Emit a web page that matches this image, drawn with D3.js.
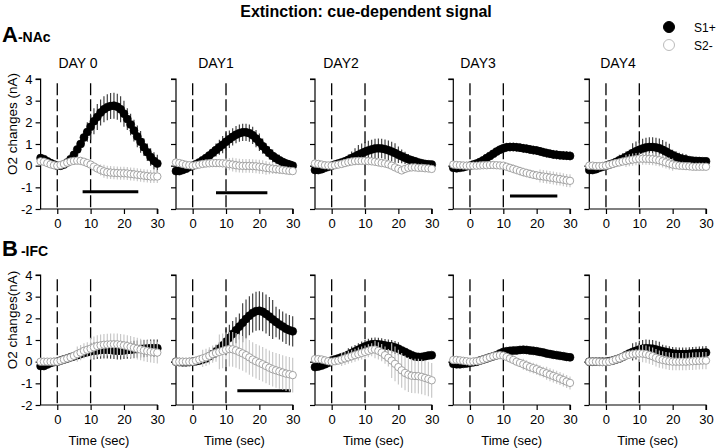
<!DOCTYPE html>
<html><head><meta charset="utf-8">
<script src="https://cdn.jsdelivr.net/npm/d3@7"></script>
<style>
body{margin:0;background:#fff;}
svg{font-family:"Liberation Sans",Arial,sans-serif;}
</style></head>
<body><svg id="c" width="720" height="448"></svg>
<script>
const days = ["DAY 0","DAY1","DAY2","DAY3","DAY4"];
const times = [-5,-4,-3,-2,-1,0,1,2,3,4,5,6,7,8,9,10,11,12,13,14,15,16,17,18,19,20,21,22,23,24,25,26,27,28,29,30];
const xTicks = [0,10,20,30];
const yTicks = [4,3,2,1,0,-1,-2];
const cueLines = [0,10];
const seriesNames = ["S1+","S2-"];

// A - NAc
const nacS1 = [
 [0.35,0.3,0.2,0.12,0.05,0,0,0.05,0.15,0.3,0.5,0.75,1.0,1.3,1.55,1.8,2.05,2.25,2.45,2.6,2.7,2.75,2.77,2.72,2.6,2.4,2.15,1.9,1.62,1.35,1.1,0.85,0.62,0.4,0.22,0.1],
 [-0.25,-0.25,-0.2,-0.14,-0.06,0,0.07,0.15,0.25,0.35,0.47,0.6,0.72,0.85,0.97,1.1,1.22,1.33,1.43,1.5,1.54,1.54,1.5,1.4,1.25,1.08,0.9,0.73,0.58,0.45,0.34,0.25,0.17,0.1,0.05,0],
 [-0.2,-0.2,-0.16,-0.1,-0.05,0,0.05,0.1,0.15,0.2,0.27,0.35,0.42,0.5,0.57,0.64,0.7,0.75,0.79,0.8,0.79,0.76,0.71,0.65,0.58,0.5,0.43,0.36,0.3,0.25,0.2,0.15,0.11,0.08,0.06,0.05],
 [-0.1,-0.12,-0.1,-0.07,-0.03,0,0.05,0.1,0.17,0.25,0.35,0.45,0.55,0.65,0.74,0.8,0.85,0.86,0.86,0.85,0.83,0.8,0.78,0.75,0.72,0.7,0.66,0.62,0.58,0.55,0.52,0.5,0.48,0.47,0.46,0.45],
 [-0.2,-0.2,-0.16,-0.1,-0.05,0,0.05,0.1,0.17,0.25,0.32,0.4,0.49,0.58,0.66,0.73,0.79,0.84,0.86,0.86,0.84,0.8,0.73,0.65,0.56,0.48,0.41,0.35,0.31,0.28,0.25,0.23,0.22,0.21,0.2,0.2]
];
const nacS1Err = [
 [0.1,0.1,0.1,0.1,0.1,0.1,0.1,0.1,0.1,0.12,0.15,0.18,0.22,0.3,0.45,0.6,0.6,0.6,0.6,0.6,0.6,0.6,0.6,0.6,0.6,0.6,0.5,0.5,0.5,0.5,0.5,0.4,0.4,0.4,0.4,0.4],
 [0.08,0.08,0.08,0.08,0.08,0.08,0.08,0.08,0.08,0.15,0.2,0.25,0.3,0.35,0.4,0.4,0.4,0.4,0.4,0.4,0.4,0.4,0.4,0.4,0.4,0.4,0.35,0.3,0.3,0.3,0.25,0.25,0.2,0.2,0.2,0.2],
 [0.08,0.08,0.08,0.08,0.08,0.08,0.08,0.08,0.08,0.2,0.25,0.3,0.38,0.45,0.45,0.45,0.45,0.45,0.45,0.45,0.45,0.45,0.45,0.45,0.45,0.38,0.32,0.28,0.24,0.2,0.18,0.15,0.12,0.1,0.1,0.1],
 [0.05,0.05,0.05,0.05,0.05,0.05,0.05,0.05,0.05,0.05,0.05,0.1,0.15,0.2,0.2,0.2,0.2,0.2,0.2,0.2,0.2,0.2,0.2,0.2,0.2,0.2,0.2,0.2,0.2,0.2,0.2,0.2,0.2,0.2,0.2,0.2],
 [0.05,0.05,0.05,0.05,0.05,0.05,0.05,0.05,0.05,0.25,0.25,0.25,0.25,0.45,0.45,0.45,0.45,0.45,0.45,0.45,0.45,0.45,0.45,0.45,0.45,0.25,0.25,0.25,0.25,0.25,0.12,0.12,0.12,0.12,0.12,0.12]
];
const nacS2 = [
 [0.2,0.18,0.12,0.06,0.02,0,0.03,0.08,0.14,0.19,0.22,0.23,0.22,0.18,0.12,0.05,-0.04,-0.13,-0.2,-0.26,-0.3,-0.32,-0.33,-0.34,-0.35,-0.35,-0.36,-0.38,-0.4,-0.42,-0.44,-0.46,-0.48,-0.5,-0.5,-0.5],
 [0.15,0.12,0.08,0.04,0.02,0,0.02,0.05,0.08,0.1,0.11,0.12,0.12,0.12,0.11,0.1,0.07,0.05,0.02,0,-0.01,-0.01,-0.01,-0.02,-0.03,-0.05,-0.07,-0.1,-0.12,-0.14,-0.16,-0.18,-0.2,-0.22,-0.24,-0.25],
 [0.1,0.08,0.05,0.02,0.01,0,0.02,0.05,0.08,0.12,0.16,0.19,0.21,0.22,0.22,0.22,0.21,0.2,0.18,0.15,0.12,0.1,0.06,0,-0.08,-0.15,-0.22,-0.15,-0.1,-0.08,-0.08,-0.1,-0.1,-0.12,-0.13,-0.15],
 [0.05,0.03,0.02,0.01,0,0,0,0,0.01,0.02,0.02,0.03,0.03,0.02,0.01,0,-0.05,-0.1,-0.15,-0.2,-0.25,-0.3,-0.34,-0.38,-0.42,-0.45,-0.48,-0.5,-0.52,-0.55,-0.57,-0.6,-0.62,-0.65,-0.68,-0.7],
 [0,0,-0.02,-0.02,-0.01,0,0.04,0.08,0.12,0.15,0.19,0.22,0.25,0.28,0.3,0.32,0.32,0.32,0.31,0.3,0.28,0.25,0.2,0.15,0.1,0.05,0.02,0,-0.01,-0.02,-0.03,-0.05,-0.05,-0.05,-0.05,-0.05]
];
const nacS2Err = [
 [0.08,0.08,0.08,0.08,0.08,0.08,0.08,0.08,0.08,0.08,0.08,0.08,0.08,0.08,0.08,0.12,0.15,0.2,0.25,0.3,0.3,0.3,0.3,0.3,0.3,0.3,0.3,0.3,0.3,0.3,0.3,0.3,0.3,0.3,0.3,0.3],
 [0.06,0.06,0.06,0.06,0.06,0.06,0.06,0.06,0.06,0.06,0.06,0.06,0.06,0.12,0.18,0.24,0.28,0.32,0.32,0.32,0.32,0.32,0.32,0.32,0.32,0.32,0.32,0.32,0.28,0.25,0.22,0.2,0.18,0.16,0.15,0.15],
 [0.08,0.08,0.08,0.08,0.08,0.08,0.08,0.08,0.08,0.08,0.08,0.08,0.08,0.12,0.12,0.12,0.12,0.12,0.12,0.12,0.12,0.12,0.12,0.12,0.12,0.12,0.08,0.08,0.08,0.08,0.08,0.08,0.08,0.08,0.08,0.08],
 [0.05,0.05,0.05,0.05,0.05,0.05,0.05,0.05,0.05,0.05,0.05,0.05,0.1,0.1,0.1,0.1,0.1,0.1,0.2,0.2,0.2,0.2,0.2,0.2,0.2,0.2,0.3,0.3,0.3,0.3,0.3,0.3,0.3,0.3,0.3,0.3],
 [0.05,0.05,0.05,0.05,0.05,0.05,0.05,0.05,0.05,0.05,0.05,0.28,0.28,0.28,0.28,0.28,0.28,0.28,0.28,0.28,0.28,0.28,0.28,0.28,0.28,0.28,0.15,0.15,0.15,0.15,0.15,0.15,0.15,0.15,0.15,0.15]
];
// B - IFC
const ifcS1 = [
 [-0.2,-0.2,-0.13,-0.06,-0.02,0,0.05,0.1,0.15,0.2,0.25,0.3,0.35,0.4,0.44,0.48,0.5,0.52,0.54,0.55,0.55,0.54,0.52,0.5,0.5,0.52,0.54,0.55,0.57,0.58,0.59,0.6,0.61,0.62,0.62,0.62],
 [0,-0.02,-0.03,-0.03,-0.02,0,0.02,0.05,0.1,0.15,0.25,0.35,0.47,0.6,0.75,0.92,1.1,1.28,1.45,1.62,1.8,1.97,2.12,2.25,2.33,2.35,2.3,2.2,2.08,1.95,1.83,1.72,1.62,1.52,1.45,1.4],
 [-0.25,-0.22,-0.18,-0.12,-0.05,0.05,0.1,0.15,0.2,0.25,0.32,0.4,0.47,0.55,0.63,0.7,0.76,0.8,0.81,0.8,0.78,0.75,0.72,0.7,0.65,0.6,0.52,0.45,0.37,0.3,0.24,0.22,0.22,0.25,0.28,0.3],
 [-0.1,-0.12,-0.12,-0.1,-0.08,-0.05,-0.03,0,0.05,0.1,0.15,0.2,0.25,0.3,0.38,0.45,0.48,0.5,0.51,0.52,0.54,0.55,0.54,0.52,0.5,0.48,0.45,0.42,0.38,0.35,0.32,0.3,0.27,0.25,0.22,0.2],
 [0,0,0,0,0,0,0.02,0.05,0.1,0.15,0.22,0.3,0.38,0.45,0.5,0.56,0.6,0.62,0.61,0.6,0.56,0.52,0.48,0.45,0.41,0.38,0.36,0.35,0.35,0.35,0.36,0.38,0.39,0.4,0.41,0.42]
];
const ifcS1Err = [
 [0.05,0.05,0.05,0.05,0.05,0.05,0.05,0.05,0.05,0.05,0.2,0.2,0.2,0.2,0.2,0.4,0.4,0.4,0.4,0.4,0.4,0.4,0.4,0.4,0.4,0.4,0.4,0.4,0.4,0.4,0.4,0.4,0.4,0.4,0.4,0.4],
 [0.1,0.1,0.1,0.1,0.1,0.1,0.1,0.1,0.1,0.1,0.3,0.3,0.3,0.3,0.3,0.6,0.6,0.6,0.6,0.6,0.9,0.9,0.9,0.9,0.9,0.9,0.9,0.9,0.9,0.9,0.7,0.7,0.7,0.7,0.7,0.7],
 [0.15,0.15,0.15,0.15,0.15,0.15,0.15,0.15,0.15,0.15,0.3,0.3,0.3,0.3,0.3,0.3,0.3,0.3,0.3,0.3,0.3,0.3,0.3,0.3,0.3,0.3,0.15,0.15,0.15,0.15,0.15,0.15,0.15,0.15,0.15,0.15],
 [0.05,0.05,0.05,0.05,0.05,0.05,0.05,0.05,0.05,0.05,0.05,0.05,0.05,0.05,0.05,0.12,0.12,0.12,0.12,0.12,0.12,0.12,0.12,0.12,0.12,0.12,0.12,0.12,0.08,0.08,0.08,0.08,0.08,0.08,0.08,0.08],
 [0.05,0.05,0.05,0.05,0.05,0.05,0.05,0.05,0.05,0.2,0.2,0.2,0.2,0.4,0.4,0.4,0.4,0.4,0.4,0.4,0.4,0.4,0.3,0.3,0.3,0.3,0.3,0.3,0.3,0.3,0.3,0.3,0.3,0.3,0.3,0.3]
];
const ifcS2 = [
 [0,0,0,0,0,0,0.05,0.1,0.15,0.2,0.27,0.35,0.42,0.5,0.55,0.6,0.66,0.72,0.75,0.78,0.79,0.8,0.8,0.8,0.78,0.75,0.72,0.68,0.64,0.6,0.56,0.52,0.49,0.46,0.44,0.42],
 [0,0,0,0,0,0,0.05,0.1,0.15,0.2,0.27,0.35,0.4,0.45,0.5,0.55,0.58,0.57,0.52,0.45,0.38,0.3,0.2,0.1,0.02,-0.05,-0.12,-0.2,-0.28,-0.35,-0.4,-0.45,-0.5,-0.55,-0.58,-0.62],
 [0.12,0.12,0.1,0.06,0.02,0,0.02,0.05,0.1,0.15,0.2,0.25,0.3,0.35,0.4,0.45,0.5,0.55,0.56,0.5,0.42,0.3,0.18,0.05,-0.1,-0.25,-0.4,-0.52,-0.6,-0.65,-0.66,-0.67,-0.7,-0.75,-0.8,-0.86],
 [0.08,0.08,0.06,0.04,0.02,0,0.01,0.02,0.05,0.1,0.15,0.2,0.25,0.28,0.3,0.28,0.22,0.15,0.08,0,-0.06,-0.12,-0.18,-0.25,-0.3,-0.35,-0.42,-0.48,-0.54,-0.6,-0.66,-0.72,-0.78,-0.85,-0.92,-0.98],
 [0,0,0,-0.01,-0.02,-0.02,0,0.05,0.1,0.15,0.22,0.28,0.32,0.35,0.37,0.38,0.37,0.35,0.3,0.25,0.18,0.12,0.08,0.05,0.02,0,0,0,0,0,0.01,0.02,0.03,0.04,0.05,0.05]
];
const ifcS2Err = [
 [0.05,0.05,0.05,0.05,0.05,0.05,0.15,0.15,0.15,0.15,0.15,0.35,0.35,0.35,0.35,0.5,0.5,0.5,0.5,0.5,0.5,0.5,0.5,0.5,0.5,0.5,0.5,0.5,0.5,0.5,0.5,0.5,0.5,0.5,0.5,0.5],
 [0.2,0.2,0.15,0.1,0.1,0.1,0.15,0.2,0.4,0.4,0.4,0.4,0.4,0.8,0.8,0.8,0.8,0.8,0.8,0.8,0.8,0.8,0.8,0.8,0.8,0.8,0.8,0.8,0.8,0.8,0.8,0.8,0.8,0.8,0.8,0.8],
 [0.12,0.12,0.12,0.12,0.12,0.12,0.12,0.12,0.3,0.3,0.3,0.3,0.3,0.3,0.3,0.3,0.3,0.3,0.4,0.4,0.4,0.4,0.4,0.8,0.8,0.8,0.8,0.8,0.8,0.8,0.8,0.8,0.8,0.8,0.8,0.8],
 [0.05,0.05,0.05,0.05,0.05,0.05,0.05,0.05,0.05,0.05,0.05,0.05,0.05,0.05,0.05,0.12,0.12,0.12,0.12,0.12,0.12,0.25,0.25,0.25,0.25,0.25,0.25,0.25,0.3,0.3,0.3,0.3,0.3,0.3,0.3,0.3],
 [0.05,0.05,0.05,0.05,0.05,0.05,0.05,0.05,0.05,0.2,0.2,0.2,0.2,0.2,0.2,0.4,0.4,0.4,0.4,0.4,0.4,0.4,0.4,0.4,0.4,0.4,0.4,0.4,0.4,0.4,0.4,0.4,0.4,0.4,0.4,0.4]
];
// significance bars: [start sec, end sec, level nA]
const nacSig = [[7.6,24.3,-1.2],[7.0,22.4,-1.25],null,[12.0,26.2,-1.4],null];
const ifcSig = [null,[13.4,29.4,-1.34],null,null,null];

const svg = d3.select("#c");
const FONT = "'Liberation Sans',Arial,sans-serif";

// layout
const panelLeft = [40.6, 176, 315, 453.3, 589.3];
const panelW = 116.7;
const rows = [
  {top:79, bottom:209, s1:nacS1, s1e:nacS1Err, s2:nacS2, s2e:nacS2Err, sig:nacSig, letter:"A", sub:"-NAc", ylab:"O2 changes (nA)", letterY:42, showDays:true},
  {top:275, bottom:405, s1:ifcS1, s1e:ifcS1Err, s2:ifcS2, s2e:ifcS2Err, sig:ifcSig, letter:"B", sub:"-IFC", ylab:"O2 changes(nA)", letterY:256, showDays:false, timeLabel:true}
];

// title
svg.append("text").attr("x",366).attr("y",17).attr("text-anchor","middle")
  .style("font-size","16px").style("font-weight","bold").text("Extinction: cue-dependent signal");

// legend
const legend = [{name:seriesNames[0], fill:"#000", stroke:"#000", y:27},{name:seriesNames[1], fill:"#fff", stroke:"#bbb", y:45}];
legend.forEach(l=>{
  svg.append("circle").attr("cx",669).attr("cy",l.y).attr("r",5.5).attr("fill",l.fill).attr("stroke",l.stroke);
  svg.append("text").attr("x",694).attr("y",l.y+4.5).style("font-size","12px").text(l.name);
});

rows.forEach((row,ri)=>{
  const t = svg.append("text").attr("x",2).attr("y",row.letterY).style("font-weight","bold");
  t.append("tspan").style("font-size","22px").text(row.letter);
  t.append("tspan").style("font-size","14px").attr("dx", ri===1?3:0).text(row.sub);
  const yc = (row.top+row.bottom)/2 - 20;
  svg.append("text").attr("transform",`translate(17,${yc}) rotate(-90)`).attr("text-anchor","middle")
     .style("font-size","13.5px").text(row.ylab);

  const y = d3.scaleLinear().domain([-2,4]).range([row.bottom,row.top]);
  days.forEach((day,di)=>{
    const x = d3.scaleLinear().domain([-5,30]).range([panelLeft[di], panelLeft[di]+panelW]);
    const g = svg.append("g");
    const yAxis = d3.axisLeft(y).tickValues(yTicks).tickSize(5).tickFormat(d=>d3.format("d")(d).replace("−","-"));
    const ya = g.append("g").attr("transform",`translate(${panelLeft[di]},0)`).call(yAxis);
    ya.select(".domain").attr("d",`M-5,${row.top}H0V${row.bottom}`);
    ya.selectAll("text").style("font-size","13px").style("font-family",FONT).attr("fill","#000").attr("x",-8);
    if(di>0) ya.selectAll("text").remove();
    const xAxis = d3.axisBottom(x).tickValues(xTicks).tickSize(5).tickPadding(5);
    const xa = g.append("g").attr("transform",`translate(0,${row.bottom})`).call(xAxis);
    xa.select(".domain").attr("d",`M${panelLeft[di]},0H${x(30)}V5`);
    xa.selectAll("text").style("font-size","13px").style("font-family",FONT).attr("fill","#000");
    g.selectAll(".domain,.tick line").attr("stroke","#000").attr("stroke-width",1.2);

    g.selectAll("line.cue").data(cueLines).enter().append("line").attr("class","cue")
      .attr("x1",d=>x(d)).attr("x2",d=>x(d)).attr("y1",y(3.8)).attr("y2",row.bottom)
      .attr("stroke","#000").attr("stroke-width",1.3).attr("stroke-dasharray","12,4");

    const sg = row.sig[di];
    if(sg){
      g.append("line").attr("x1",x(sg[0])).attr("x2",x(sg[1])).attr("y1",y(sg[2])).attr("y2",y(sg[2]))
        .attr("stroke","#000").attr("stroke-width",3);
    }

    const s1 = times.map((t,i)=>({t, v:row.s1[di][i], e:row.s1e[di][i]}));
    const s2 = times.map((t,i)=>({t, v:row.s2[di][i], e:row.s2e[di][i]}));
    g.append("g").selectAll("line").data(s1).enter().append("line")
      .attr("x1",d=>x(d.t)).attr("x2",d=>x(d.t)).attr("y1",d=>y(d.v+d.e)).attr("y2",d=>y(d.v-d.e))
      .attr("stroke","#333").attr("stroke-width",1.1);
    g.append("g").selectAll("circle").data(s1).enter().append("circle")
      .attr("cx",d=>x(d.t)).attr("cy",d=>y(d.v)).attr("r",4).attr("fill","#000").attr("stroke","#000").attr("stroke-width",0.6);
    g.append("g").selectAll("line").data(s2).enter().append("line")
      .attr("x1",d=>x(d.t)).attr("x2",d=>x(d.t)).attr("y1",d=>y(d.v+d.e)).attr("y2",d=>y(d.v-d.e))
      .attr("stroke","#c4c4c4").attr("stroke-width",1.1);
    g.append("g").selectAll("circle").data(s2).enter().append("circle")
      .attr("cx",d=>x(d.t)).attr("cy",d=>y(d.v)).attr("r",3.7).attr("fill","#fff").attr("stroke","#9a9a9a").attr("stroke-width",0.9);

    if(row.showDays){
      const dayX = [78,216,341,478,618];
      svg.append("text").attr("x",dayX[di]).attr("y",68).attr("text-anchor","middle").style("font-size","14px").text(day);
    }
    if(row.timeLabel){
      svg.append("text").attr("x",x(12.5)).attr("y",445).attr("text-anchor","middle").style("font-size","13px").text("Time (sec)");
    }
  });
});
</script></body></html>
